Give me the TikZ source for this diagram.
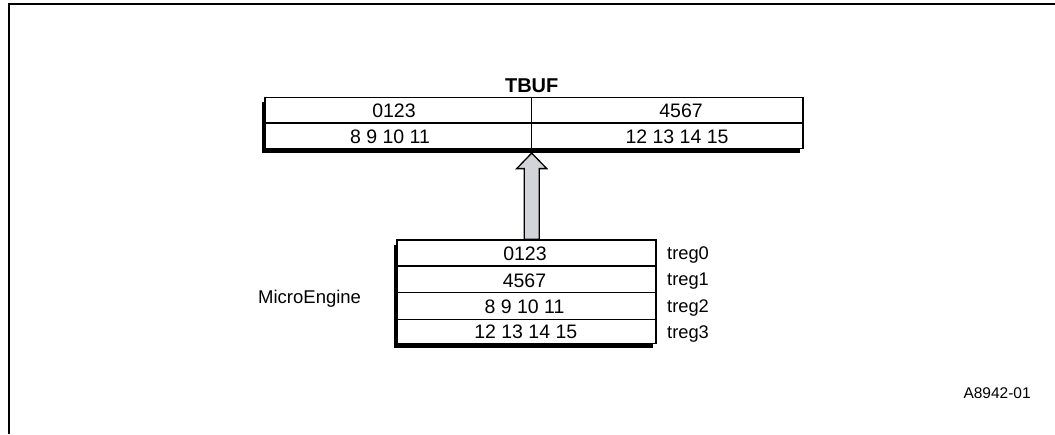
\documentclass[tikz,border=0pt]{standalone}
\usepackage{fontspec}
\setmainfont{Liberation Sans}
\usetikzlibrary{calc,shadows}
\definecolor{arrowgray}{RGB}{211,212,215}
\begin{document}
\begin{tikzpicture}[x=1pt,y=-1pt,
  tbl/.style={draw=black, line width=1.6pt, fill=white, inner sep=0pt,
    drop shadow={shadow xshift=-3pt, shadow yshift=-4.5pt, fill=black, opacity=1}},
  cell/.style={inner sep=0pt, anchor=base, font=\fontsize{19.5}{20}\selectfont},
  lbl/.style={inner sep=0pt, anchor=base west, font=\fontsize{18.3}{19}\selectfont},
  sep/.style={line width=1.5pt},
  blockarrow/.style={draw=black, line width=1.3pt, fill=arrowgray, line join=miter}
]
\useasboundingbox (0,0) rectangle (1055,434);
% frame
\draw[line width=2pt] (9,434) -- (9,4) -- (1055,4);

% TBUF table
\node[tbl, minimum width=537.7pt, minimum height=51pt] (tbuf) at (533.85,122.8) {};
\node[inner sep=0pt, anchor=base, font=\bfseries\fontsize{20}{21}\selectfont] (tbuftitle) at (531.7,92) {TBUF};
\draw[sep] (tbuf.west) -- (tbuf.east);
\coordinate (div) at (531.7,0);
\draw[sep] (div |- tbuf.north) -- (div |- tbuf.south);
\node[cell] (t0) at (394,117.2) {0123};
\node[cell] (t1) at (681,117.2) {4567};
\node[cell] (t2) at (390,143) {8 9 10 11};
\node[cell] (t3) at (677,143) {12 13 14 15};

% MicroEngine table
\node[tbl, minimum width=259pt, minimum height=103.3pt] (me) at (526.5,291.65) {};
\draw[sep] (me.west |- 0,266) -- (me.east |- 0,266);
\draw[sep] (me.west |- 0,292.7) -- (me.east |- 0,292.7);
\draw[sep] (me.west |- 0,319.3) -- (me.east |- 0,319.3);
\node[cell] (m0) at (525,260.2) {0123};
\node[cell] (m1) at (524.5,287) {4567};
\node[cell] (m2) at (524.5,313) {8 9 10 11};
\node[cell] (m3) at (525.8,338.8) {12 13 14 15};
\node[lbl] (r0) at (667,259.5) {treg0};
\node[lbl] (r1) at (667,285.8) {treg1};
\node[lbl] (r2) at (667,312.2) {treg2};
\node[lbl] (r3) at (667,338) {treg3};
\node[lbl, font=\fontsize{18.5}{19}\selectfont] (mename) at (258,303.6) {MicroEngine};

% block arrow from MicroEngine to TBUF
\coordinate (tip) at ($(div |- tbuf.south)+(0,4)$);
\coordinate (tail) at (div |- me.north);
\draw[blockarrow] (tip) -- ++(-15,15.5) -- ++(7.5,0) -- (tail -| {$(tip)+(-7.5,0)$}) -- (tail -| {$(tip)+(7.5,0)$}) -- ($(tip)+(7.5,15.5)$) -- ++(7.5,0) -- cycle;

% figure id
\node[lbl, font=\fontsize{15.5}{16}\selectfont] (figid) at (963.3,398.3) {A8942-01};
\end{tikzpicture}
\end{document}
